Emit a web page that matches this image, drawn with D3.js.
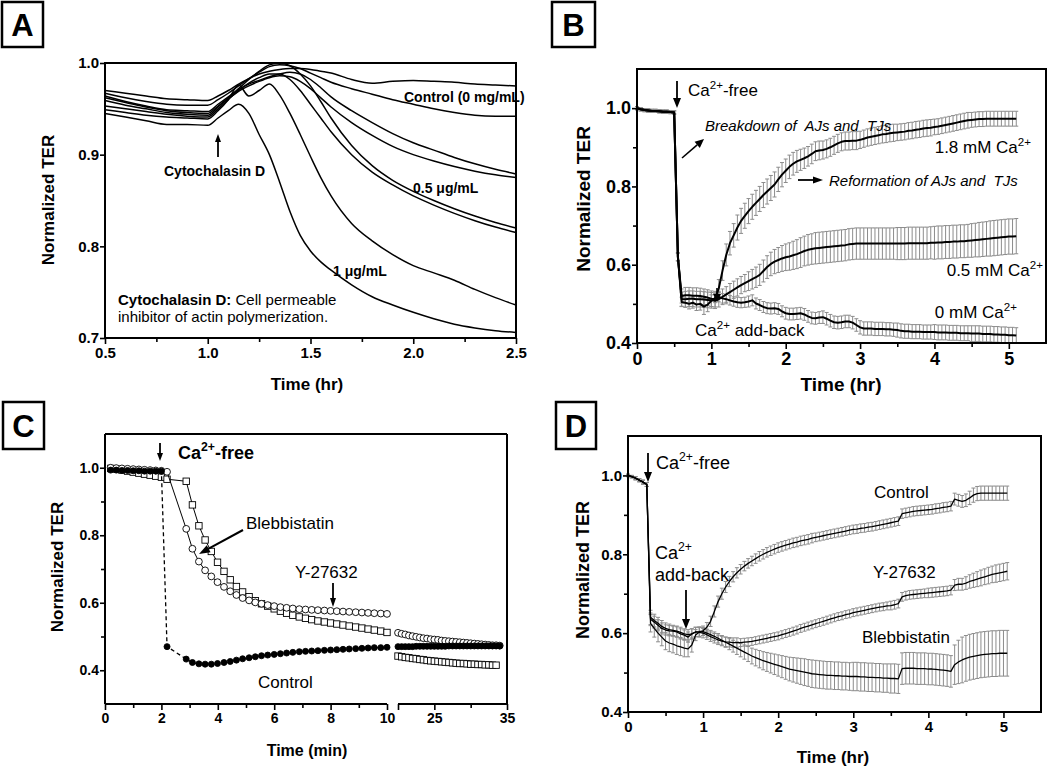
<!DOCTYPE html>
<html>
<head>
<meta charset="utf-8">
<script src="https://d3js.org/d3.v7.min.js"></script>
<title>Normalized TER panels</title>
<style>
  body { margin: 0; background: #fff; }
</style>
</head>
<body>
<script>
    // ---------------- data: panel A (cytochalasin D) ----------------
    var aTimes = [0.5,0.6,0.7,0.8,0.9,1.0,1.05,1.1,1.15,1.2,1.25,1.3,1.35,1.4,1.45,1.5,1.55,1.6,1.7,1.8,1.9,2.0,2.1,2.2,2.3,2.4,2.5];
    var aCtrl1 = [0.970,0.967,0.964,0.961,0.960,0.959, 0.964,0.970,0.977,0.983,0.988,0.991,0.993,0.994,0.994,0.993,0.991,0.989, 0.982,0.978,0.980,0.981,0.980,0.979,0.977,0.976,0.975];
    var aCtrl2 = [0.967,0.962,0.958,0.955,0.954,0.954, 0.960,0.967,0.975,0.983,0.990,0.996,0.998,0.997,0.994,0.989,0.984,0.979, 0.972,0.966,0.960,0.955,0.950,0.946,0.943,0.942,0.942];
    var aLow1  = [0.964,0.958,0.953,0.949,0.948,0.947, 0.955,0.963,0.971,0.977,0.981,0.985,0.988,0.990,0.988,0.982,0.973,0.963, 0.948,0.935,0.923,0.913,0.905,0.897,0.890,0.884,0.879];
    var aLow2  = [0.962,0.957,0.952,0.948,0.946,0.945, 0.953,0.961,0.969,0.975,0.980,0.984,0.986,0.985,0.980,0.972,0.962,0.952, 0.935,0.921,0.909,0.900,0.893,0.887,0.882,0.878,0.875];
    var aHalf1 = [0.959,0.954,0.950,0.946,0.944,0.943, 0.952,0.962,0.972,0.982,0.991,0.998,1.000,0.997,0.988,0.975,0.958,0.940, 0.910,0.888,0.872,0.860,0.850,0.841,0.833,0.826,0.820];
    var aHalf2 = [0.953,0.950,0.947,0.944,0.942,0.941, 0.950,0.960,0.970,0.978,0.984,0.988,0.988,0.982,0.970,0.955,0.940,0.925, 0.900,0.881,0.867,0.855,0.845,0.836,0.828,0.821,0.815];
    var aOne1  = [0.949,0.946,0.943,0.941,0.940,0.939, 0.948,0.960,0.976,0.964,0.970,0.977,0.965,0.945,0.922,0.898,0.875,0.855, 0.825,0.806,0.791,0.779,0.771,0.763,0.753,0.744,0.736];
    var aOne2  = [0.945,0.941,0.937,0.933,0.933,0.932, 0.940,0.948,0.955,0.945,0.922,0.900,0.870,0.838,0.812,0.795,0.783,0.774, 0.758,0.745,0.736,0.728,0.721,0.715,0.711,0.708,0.706];

    // ---------------- data: panel B (Ca2+ switch), one value every 0.05 hr ----------------
    var bStep = 0.05;
    var b18 = [
        1.000,0.997,0.995,0.994,0.993,0.993,0.992,0.991,0.991,0.990,
        0.989,0.620,0.520,0.522,0.522,0.521,0.521,0.520,0.518,0.516,
        0.513,0.512,0.540,0.585,0.625,0.655,0.675,0.695,0.712,0.725,
        0.737,0.748,0.758,0.768,0.778,0.787,0.796,0.805,0.818,0.830,
        0.840,0.850,0.858,0.864,0.868,0.872,0.877,0.883,0.890,0.892,
        0.893,0.896,0.900,0.905,0.910,0.914,0.916,0.916,0.917,0.917,
        0.919,0.922,0.925,0.927,0.929,0.931,0.933,0.934,0.936,0.937,
        0.938,0.939,0.940,0.942,0.943,0.945,0.946,0.948,0.949,0.950,
        0.952,0.953,0.955,0.957,0.959,0.961,0.963,0.965,0.967,0.969,
        0.970,0.971,0.972,0.972,0.973,0.973,0.973,0.973,0.973,0.973,
        0.973,0.973,0.973];
    var b18Err = [
        0.004,0.004,0.004,0.004,0.004,0.004,0.004,0.004,0.004,0.004,
        0.004,0.010,0.018,0.020,0.020,0.020,0.020,0.020,0.020,0.020,
        0.020,0.020,0.022,0.025,0.028,0.030,0.030,0.032,0.032,0.032,
        0.032,0.032,0.032,0.032,0.032,0.032,0.032,0.032,0.031,0.031,
        0.030,0.030,0.029,0.028,0.027,0.026,0.025,0.025,0.024,0.024,
        0.023,0.023,0.023,0.023,0.023,0.023,0.023,0.023,0.023,0.023,
        0.022,0.022,0.022,0.022,0.022,0.022,0.022,0.022,0.022,0.022,
        0.021,0.021,0.021,0.021,0.021,0.021,0.021,0.021,0.021,0.021,
        0.020,0.020,0.020,0.020,0.020,0.020,0.020,0.020,0.020,0.020,
        0.019,0.019,0.019,0.019,0.019,0.019,0.019,0.019,0.019,0.019,
        0.019,0.019,0.019];
    var b05 = [
        1.000,0.997,0.995,0.994,0.993,0.993,0.992,0.991,0.991,0.990,
        0.989,0.620,0.512,0.512,0.513,0.513,0.512,0.512,0.511,0.510,
        0.509,0.508,0.512,0.518,0.524,0.530,0.536,0.542,0.548,0.553,
        0.558,0.563,0.568,0.574,0.584,0.594,0.602,0.608,0.612,0.616,
        0.619,0.621,0.624,0.627,0.631,0.635,0.638,0.640,0.642,0.643,
        0.644,0.645,0.646,0.647,0.648,0.649,0.650,0.652,0.653,0.654,
        0.654,0.654,0.654,0.654,0.654,0.654,0.654,0.654,0.654,0.654,
        0.654,0.654,0.654,0.655,0.655,0.655,0.655,0.655,0.655,0.656,
        0.656,0.657,0.657,0.658,0.658,0.659,0.659,0.660,0.660,0.661,
        0.662,0.663,0.664,0.665,0.666,0.667,0.668,0.669,0.670,0.671,
        0.672,0.672,0.673];
    var b05Err = [
        0.004,0.004,0.004,0.004,0.004,0.004,0.004,0.004,0.004,0.004,
        0.004,0.010,0.018,0.020,0.020,0.020,0.020,0.020,0.020,0.020,
        0.020,0.020,0.020,0.020,0.020,0.022,0.022,0.022,0.022,0.022,
        0.024,0.025,0.026,0.027,0.028,0.029,0.030,0.031,0.032,0.033,
        0.034,0.035,0.036,0.037,0.038,0.038,0.039,0.039,0.040,0.040,
        0.040,0.040,0.040,0.040,0.040,0.040,0.040,0.040,0.040,0.040,
        0.040,0.040,0.040,0.040,0.040,0.040,0.040,0.040,0.040,0.040,
        0.041,0.041,0.041,0.041,0.041,0.041,0.041,0.041,0.041,0.041,
        0.042,0.042,0.042,0.042,0.042,0.042,0.042,0.042,0.042,0.042,
        0.043,0.043,0.044,0.044,0.044,0.045,0.045,0.045,0.045,0.045,
        0.045,0.045,0.045];
    var b00 = [
        1.000,0.997,0.995,0.994,0.993,0.993,0.992,0.991,0.991,0.990,
        0.989,0.620,0.505,0.503,0.500,0.503,0.498,0.500,0.493,0.498,
        0.508,0.515,0.517,0.514,0.512,0.509,0.506,0.504,0.503,0.504,
        0.506,0.509,0.501,0.497,0.492,0.489,0.488,0.489,0.487,0.481,
        0.476,0.474,0.474,0.475,0.476,0.473,0.468,0.464,0.463,0.465,
        0.466,0.462,0.457,0.453,0.452,0.453,0.455,0.455,0.452,0.446,
        0.440,0.437,0.437,0.437,0.436,0.436,0.436,0.435,0.435,0.434,
        0.433,0.431,0.430,0.430,0.429,0.429,0.429,0.428,0.428,0.428,
        0.428,0.427,0.427,0.427,0.426,0.426,0.426,0.425,0.425,0.425,
        0.424,0.424,0.424,0.423,0.423,0.423,0.422,0.422,0.421,0.421,
        0.420,0.420,0.419];
    var b00Err = [
        0.004,0.004,0.004,0.004,0.004,0.004,0.004,0.004,0.004,0.004,
        0.004,0.010,0.012,0.012,0.013,0.014,0.015,0.016,0.020,0.018,
        0.015,0.012,0.012,0.012,0.012,0.012,0.012,0.013,0.013,0.013,
        0.014,0.014,0.014,0.014,0.014,0.014,0.014,0.014,0.014,0.014,
        0.015,0.015,0.015,0.015,0.015,0.015,0.015,0.015,0.015,0.015,
        0.016,0.016,0.016,0.016,0.016,0.016,0.016,0.016,0.016,0.016,
        0.017,0.017,0.017,0.017,0.017,0.017,0.017,0.017,0.017,0.017,
        0.018,0.018,0.018,0.018,0.018,0.018,0.018,0.018,0.018,0.018,
        0.019,0.019,0.019,0.019,0.019,0.019,0.019,0.019,0.019,0.019,
        0.020,0.020,0.020,0.020,0.020,0.020,0.020,0.020,0.020,0.020,
        0.020,0.020,0.020];

    // ---------------- data: panel C (minutes, broken axis) ----------------
    var cTimes = [0.2,0.4,0.6,0.8,1.0,1.2,1.4,1.6,1.8,2.0,2.2,
        2.88,3.1,3.33,3.55,3.77,3.99,4.22,4.44,4.66,4.88,5.11,5.33,5.55,5.77,
        6.0,6.22,6.44,6.66,6.89,7.11,7.33,7.55,7.78,8.0,8.22,8.44,8.66,8.89,
        9.11,9.33,9.55,9.78,10.0];
    var cControl = [0.993,0.993,0.992,0.992,0.991,0.991,0.990,0.990,0.990,0.990,0.470,
        0.433,0.423,0.419,0.418,0.418,0.420,0.423,0.426,0.430,0.434,0.437,0.440,0.443,0.445,
        0.447,0.449,0.451,0.453,0.455,0.456,0.457,0.458,0.459,0.460,0.461,0.462,0.463,0.464,
        0.465,0.466,0.467,0.467,0.468];
    var cY27632 = [1.000,0.999,0.998,0.997,0.996,0.995,0.994,0.993,0.992,0.991,0.988,
        0.819,0.760,0.722,0.696,0.678,0.661,0.647,0.634,0.623,0.614,0.607,0.601,0.597,0.593,
        0.590,0.587,0.585,0.583,0.581,0.580,0.579,0.578,0.577,0.576,0.575,0.574,0.573,0.572,
        0.571,0.570,0.569,0.568,0.567];
    var cBlebb = [0.998,0.996,0.993,0.990,0.987,0.984,0.981,0.978,0.975,0.972,0.966,
        0.960,0.890,0.828,0.786,0.752,0.720,0.693,0.668,0.648,0.632,0.618,0.606,0.597,0.590,
        0.582,0.575,0.569,0.563,0.558,0.554,0.550,0.546,0.543,0.540,0.537,0.534,0.531,0.528,
        0.525,0.522,0.519,0.516,0.512];
    var cTimesLate = [20,20.5,21,21.5,22,22.5,23,23.5,24,24.5,25,25.5,26,26.5,27,27.5,
        28,28.5,29,29.5,30,30.5,31,31.5,32,32.5,33,33.5,34];
    var cControlLate = [0.470,0.470,0.470,0.470,0.470,0.471,0.471,0.471,0.471,0.471,0.471,0.471,0.471,0.471,0.472,0.472,
        0.472,0.472,0.472,0.472,0.472,0.472,0.472,0.472,0.472,0.472,0.472,0.472,0.472];
    var cY27632Late = [0.511,0.508,0.506,0.503,0.501,0.499,0.497,0.495,0.494,0.492,0.491,0.490,0.488,0.487,0.486,0.485,
        0.484,0.483,0.482,0.481,0.480,0.479,0.478,0.477,0.476,0.475,0.474,0.474,0.473];
    var cBlebbLate = [0.442,0.440,0.438,0.437,0.435,0.434,0.432,0.431,0.429,0.428,0.427,0.426,0.425,0.424,0.423,0.422,
        0.421,0.420,0.420,0.419,0.418,0.418,0.417,0.417,0.416,0.416,0.415,0.415];

    // ---------------- data: panel D (inhibitors), one value every 0.05 hr ----------------
    var dStep = 0.05;
    var dControl = [
        1.000,0.997,0.993,0.988,0.983,0.977,0.640,0.632,0.625,0.617,
        0.612,0.609,0.607,0.605,0.602,0.598,0.596,0.598,0.603,0.604,
        0.606,0.615,0.630,0.655,0.680,0.700,0.717,0.731,0.743,0.753,
        0.762,0.770,0.777,0.783,0.789,0.795,0.800,0.805,0.809,0.813,
        0.817,0.820,0.823,0.826,0.829,0.831,0.834,0.836,0.838,0.841,
        0.843,0.845,0.847,0.849,0.851,0.853,0.855,0.857,0.859,0.861,
        0.863,0.864,0.866,0.867,0.869,0.870,0.872,0.874,0.876,0.878,
        0.880,0.882,0.884,0.903,0.905,0.907,0.909,0.910,0.911,0.912,
        0.913,0.914,0.916,0.917,0.919,0.920,0.922,0.940,0.937,0.934,
        0.937,0.943,0.950,0.954,0.955,0.955,0.955,0.955,0.955,0.955,
        0.955,0.955];
    var dControlErr = [
        0.003,0.003,0.004,0.004,0.005,0.005,0.018,0.016,0.015,0.015,
        0.014,0.014,0.013,0.013,0.013,0.013,0.013,0.013,0.012,0.012,
        0.012,0.012,0.013,0.014,0.014,0.014,0.014,0.013,0.013,0.013,
        0.012,0.012,0.012,0.012,0.012,0.012,0.012,0.012,0.012,0.012,
        0.012,0.012,0.012,0.012,0.012,0.012,0.012,0.012,0.012,0.012,
        0.011,0.011,0.011,0.011,0.011,0.011,0.011,0.011,0.011,0.011,
        0.011,0.011,0.011,0.011,0.011,0.011,0.011,0.011,0.011,0.011,
        0.011,0.011,0.011,0.012,0.012,0.012,0.012,0.012,0.012,0.012,
        0.012,0.012,0.012,0.012,0.012,0.012,0.012,0.015,0.015,0.015,
        0.016,0.017,0.018,0.018,0.018,0.018,0.018,0.018,0.018,0.018,
        0.018,0.018];
    var dY27632 = [
        1.000,0.997,0.993,0.988,0.983,0.977,0.635,0.628,0.620,0.612,
        0.608,0.606,0.605,0.603,0.598,0.595,0.590,0.598,0.603,0.602,
        0.600,0.596,0.591,0.587,0.583,0.580,0.578,0.577,0.576,0.576,
        0.576,0.577,0.578,0.579,0.581,0.583,0.585,0.587,0.589,0.591,
        0.593,0.596,0.599,0.602,0.605,0.608,0.612,0.615,0.618,0.621,
        0.624,0.627,0.630,0.633,0.636,0.639,0.642,0.644,0.647,0.649,
        0.652,0.654,0.656,0.658,0.660,0.662,0.664,0.666,0.667,0.669,
        0.670,0.672,0.675,0.692,0.695,0.697,0.698,0.699,0.700,0.701,
        0.702,0.703,0.704,0.705,0.706,0.707,0.709,0.722,0.724,0.724,
        0.727,0.731,0.734,0.737,0.740,0.743,0.746,0.749,0.751,0.753,
        0.755,0.757];
    var dY27632Err = [
        0.003,0.003,0.004,0.004,0.005,0.005,0.016,0.015,0.014,0.014,
        0.013,0.013,0.013,0.013,0.013,0.013,0.013,0.013,0.012,0.012,
        0.012,0.012,0.012,0.012,0.012,0.012,0.012,0.012,0.012,0.012,
        0.010,0.010,0.010,0.010,0.010,0.010,0.010,0.010,0.010,0.010,
        0.010,0.010,0.010,0.010,0.010,0.010,0.010,0.010,0.010,0.010,
        0.010,0.010,0.010,0.010,0.010,0.010,0.010,0.010,0.010,0.010,
        0.010,0.010,0.010,0.010,0.010,0.010,0.010,0.010,0.010,0.010,
        0.011,0.011,0.011,0.011,0.011,0.011,0.011,0.011,0.011,0.011,
        0.012,0.012,0.012,0.012,0.012,0.012,0.012,0.014,0.015,0.015,
        0.016,0.017,0.018,0.019,0.020,0.020,0.021,0.021,0.022,0.022,
        0.022,0.022];
    var dBlebb = [
        1.000,0.997,0.993,0.988,0.983,0.977,0.625,0.612,0.600,0.590,
        0.580,0.575,0.572,0.568,0.565,0.562,0.560,0.570,0.595,0.603,
        0.604,0.600,0.596,0.592,0.587,0.582,0.577,0.572,0.567,0.562,
        0.557,0.552,0.547,0.542,0.538,0.534,0.530,0.527,0.524,0.521,
        0.518,0.515,0.512,0.509,0.507,0.505,0.503,0.501,0.499,0.497,
        0.496,0.495,0.494,0.493,0.493,0.492,0.492,0.491,0.491,0.490,
        0.490,0.490,0.489,0.489,0.488,0.488,0.487,0.487,0.486,0.486,
        0.485,0.485,0.484,0.510,0.511,0.511,0.511,0.510,0.510,0.510,
        0.509,0.509,0.508,0.507,0.506,0.505,0.503,0.520,0.527,0.532,
        0.536,0.539,0.541,0.543,0.545,0.546,0.547,0.548,0.548,0.549,
        0.549,0.549];
    var dBlebbErr = [
        0.003,0.003,0.004,0.004,0.005,0.005,0.022,0.022,0.022,0.022,
        0.022,0.022,0.022,0.022,0.022,0.022,0.020,0.018,0.014,0.012,
        0.010,0.010,0.011,0.011,0.012,0.012,0.013,0.014,0.015,0.016,
        0.017,0.018,0.019,0.020,0.021,0.022,0.023,0.024,0.025,0.026,
        0.027,0.028,0.029,0.030,0.031,0.032,0.033,0.034,0.034,0.035,
        0.035,0.035,0.035,0.035,0.035,0.035,0.035,0.035,0.035,0.035,
        0.036,0.036,0.036,0.036,0.036,0.036,0.036,0.036,0.036,0.036,
        0.037,0.037,0.037,0.040,0.040,0.040,0.040,0.040,0.040,0.040,
        0.040,0.040,0.040,0.040,0.040,0.040,0.040,0.050,0.055,0.058,
        0.058,0.058,0.058,0.058,0.058,0.058,0.058,0.058,0.058,0.058,
        0.058,0.058];

    // ---------------- drawing ----------------
    var FONT = "'Liberation Sans', Arial, Helvetica, sans-serif";
    var svg = d3.select("body").append("svg")
        .attr("width", 1050).attr("height", 767)
        .attr("font-family", FONT);
    svg.append("rect").attr("width", 1050).attr("height", 767).attr("fill", "#fff");

    function panelLabel(letter, x, y, w, h) {
        svg.append("rect").attr("x", x).attr("y", y).attr("width", w).attr("height", h)
            .attr("fill", "none").attr("stroke", "#000").attr("stroke-width", 2.5);
        svg.append("text").attr("x", x + w / 2).attr("y", y + h / 2 + 11)
            .attr("text-anchor", "middle").attr("font-size", 31).attr("font-weight", "bold")
            .text(letter);
    }

    function frame(x, y) {
        svg.append("rect")
            .attr("x", x.range()[0]).attr("y", y.range()[1])
            .attr("width", x.range()[1] - x.range()[0]).attr("height", y.range()[0] - y.range()[1])
            .attr("fill", "none").attr("stroke", "#000").attr("stroke-width", 2);
    }

    function styleAxis(g, fs) {
        g.attr("font-family", FONT).attr("font-size", fs).attr("font-weight", "bold");
        g.select(".domain").remove();
        g.selectAll(".tick line").attr("stroke", "#000").attr("stroke-width", 1.6);
        g.selectAll(".tick text").attr("fill", "#000");
    }

    function bottomAxis(x, yPos, ticks, minor, fmt, fs) {
        var g = svg.append("g").attr("transform", "translate(0," + yPos + ")")
            .call(d3.axisBottom(x).tickValues(ticks).tickFormat(fmt).tickSize(6).tickSizeOuter(0).tickPadding(3));
        styleAxis(g, fs);
        if (minor) {
            var m = svg.append("g").attr("transform", "translate(0," + yPos + ")")
                .call(d3.axisBottom(x).tickValues(minor).tickFormat("").tickSize(4).tickSizeOuter(0));
            styleAxis(m, fs);
        }
    }

    function leftAxis(y, xPos, ticks, minor, fmt, fs) {
        var g = svg.append("g").attr("transform", "translate(" + xPos + ",0)")
            .call(d3.axisLeft(y).tickValues(ticks).tickFormat(fmt).tickSize(5).tickSizeOuter(0).tickPadding(1));
        styleAxis(g, fs);
        if (minor) {
            var m = svg.append("g").attr("transform", "translate(" + xPos + ",0)")
                .call(d3.axisLeft(y).tickValues(minor).tickFormat("").tickSize(4).tickSizeOuter(0));
            styleAxis(m, fs);
        }
    }

    function yTitle(cx, cy, fs) {
        svg.append("text")
            .attr("transform", "translate(" + (cx + fs * 0.36) + "," + cy + ") rotate(-90)")
            .attr("text-anchor", "middle").attr("font-size", fs).attr("font-weight", "bold")
            .text("Normalized TER");
    }

    function xTitle(cx, cy, fs, txt) {
        svg.append("text").attr("x", cx).attr("y", cy + fs * 0.36)
            .attr("text-anchor", "middle").attr("font-size", fs).attr("font-weight", "bold")
            .text(txt);
    }

    // text with optional superscript / bold pieces
    function label(x, y, parts, o) {
        o = o || {};
        var size = o.size || 16;
        var t = svg.append("text").attr("x", x).attr("y", y)
            .attr("font-size", size)
            .attr("font-weight", o.bold ? "bold" : "normal")
            .attr("font-style", o.italic ? "italic" : "normal")
            .attr("text-anchor", o.anchor || "start")
            .style("white-space", "pre");
        if (typeof parts === "string") parts = [parts];
        var shift = 0;
        parts.forEach(function (p) {
            if (typeof p === "string") p = {t: p};
            var sp = t.append("tspan").text(p.t);
            var target = p.sup ? -0.42 * size : 0;
            if (target !== shift) { sp.attr("dy", target - shift); shift = target; }
            if (p.sup) sp.attr("font-size", size * 0.68);
            if (p.bold) sp.attr("font-weight", "bold");
        });
        return t;
    }

    function arrow(x1, y1, x2, y2, hl, hw, sw) {
        var a = Math.atan2(y2 - y1, x2 - x1);
        var bx = x2 - hl * Math.cos(a), by = y2 - hl * Math.sin(a);
        var px = -Math.sin(a) * hw / 2, py = Math.cos(a) * hw / 2;
        svg.append("line").attr("x1", x1).attr("y1", y1).attr("x2", bx).attr("y2", by)
            .attr("stroke", "#000").attr("stroke-width", sw || 1.8);
        svg.append("polygon")
            .attr("points", [x2, y2, bx + px, by + py, bx - px, by - py].join(","))
            .attr("fill", "#000");
    }

    function errorBars(x, y, step, vals, errs, color, cap) {
        var g = svg.append("g").attr("stroke", color).attr("stroke-width", 1).attr("fill", "none");
        vals.forEach(function (v, i) {
            var xi = x(i * step), lo = y(v - errs[i]), hi = y(v + errs[i]);
            g.append("line").attr("x1", xi).attr("x2", xi).attr("y1", lo).attr("y2", hi);
            g.append("line").attr("x1", xi - cap).attr("x2", xi + cap).attr("y1", lo).attr("y2", lo);
            g.append("line").attr("x1", xi - cap).attr("x2", xi + cap).attr("y1", hi).attr("y2", hi);
        });
    }

    function stepLine(x, y, step, vals, w) {
        svg.append("path").datum(vals)
            .attr("fill", "none").attr("stroke", "#000").attr("stroke-width", w)
            .attr("stroke-linejoin", "round")
            .attr("d", d3.line().x(function (d, i) { return x(i * step); }).y(function (d) { return y(d); }));
    }

    // ================= Panel A =================
    panelLabel("A", 2, 2, 41, 45);
    var xA = d3.scaleLinear().domain([0.5, 2.5]).range([105, 516]);
    var yA = d3.scaleLinear().domain([0.7, 1.0]).range([338, 63]);
    var lineA = d3.line()
        .x(function (d, i) { return xA(aTimes[i]); })
        .y(function (d) { return yA(d); })
        .curve(d3.curveMonotoneX);
    [aCtrl1, aCtrl2, aLow1, aLow2, aHalf1, aHalf2, aOne1, aOne2].forEach(function (s) {
        svg.append("path").datum(s).attr("fill", "none").attr("stroke", "#000")
            .attr("stroke-width", 1.5).attr("d", lineA);
    });
    frame(xA, yA);
    bottomAxis(xA, 338, [0.5, 1.0, 1.5, 2.0, 2.5], [0.75, 1.25, 1.75, 2.25], d3.format(".1f"), 15);
    leftAxis(yA, 105, [0.7, 0.8, 0.9, 1.0], null, d3.format(".1f"), 15);
    yTitle(48, 200, 17);
    xTitle(307, 384, 17, "Time (hr)");
    label(404, 102, "Control (0 mg/mL)", {size: 14, bold: true});
    label(413, 193, "0.5 \u03bcg/mL", {size: 14, bold: true});
    label(333, 276, "1 \u03bcg/mL", {size: 14, bold: true});
    arrow(218, 157, 218, 134, 8, 6, 1.8);
    label(164, 176, "Cytochalasin D", {size: 14, bold: true});
    label(118, 305, [{t: "Cytochalasin D:", bold: true}, " Cell permeable"], {size: 15});
    label(118, 322, "inhibitor of actin polymerization.", {size: 15});

    // ================= Panel B =================
    panelLabel("B", 552, 2, 43, 45);
    var xB = d3.scaleLinear().domain([0, 5.5]).range([637, 1046]);
    var yB = d3.scaleLinear().domain([0.4, 1.1]).range([343, 69]);
    errorBars(xB, yB, bStep, b00, b00Err, "#8c8c8c", 2);
    errorBars(xB, yB, bStep, b05, b05Err, "#8c8c8c", 2);
    errorBars(xB, yB, bStep, b18, b18Err, "#8c8c8c", 2);
    stepLine(xB, yB, bStep, b00, 2);
    stepLine(xB, yB, bStep, b05, 2);
    stepLine(xB, yB, bStep, b18, 2);
    frame(xB, yB);
    bottomAxis(xB, 343, [0, 1, 2, 3, 4, 5], [0.5, 1.5, 2.5, 3.5, 4.5], d3.format("d"), 18);
    leftAxis(yB, 637, [0.4, 0.6, 0.8, 1.0], [0.5, 0.7, 0.9], d3.format(".1f"), 18);
    yTitle(583, 199, 19);
    xTitle(841, 384, 19, "Time (hr)");
    arrow(677, 81, 677, 108, 10, 8, 1.8);
    label(688, 96, ["Ca", {t: "2+", sup: true}, "-free"], {size: 17});
    label(705, 131, "Breakdown of  AJs and  TJs", {size: 15, italic: true});
    arrow(682, 158, 704, 139, 9, 8, 1.6);
    label(1031, 153, ["1.8 mM Ca", {t: "2+", sup: true}], {size: 17, anchor: "end"});
    arrow(798, 180, 823, 180, 10, 7, 1.8);
    label(829, 186, "Reformation of AJs and  TJs", {size: 15, italic: true});
    label(1043, 276, ["0.5 mM Ca", {t: "2+", sup: true}], {size: 17, anchor: "end"});
    label(1017, 318, ["0 mM Ca", {t: "2+", sup: true}], {size: 17, anchor: "end"});
    label(695, 336, ["Ca", {t: "2+", sup: true}, " add-back"], {size: 17});
    arrow(717, 288, 717, 302, 8, 8, 1.6);

    // ================= Panel C =================
    panelLabel("C", 3, 402, 41, 47);
    var xCL = d3.scaleLinear().domain([0, 10]).range([105, 387]);
    var xCR = d3.scaleLinear().domain([20, 35]).range([398, 507]);
    var yC = d3.scaleLinear().domain([0.3, 1.1]).range([704, 434]);

    var frameC = svg.append("g").attr("stroke", "#000").attr("stroke-width", 2);
    frameC.append("line").attr("x1", 105).attr("x2", 507).attr("y1", 434).attr("y2", 434);
    frameC.append("line").attr("x1", 105).attr("x2", 105).attr("y1", 434).attr("y2", 704);
    frameC.append("line").attr("x1", 507).attr("x2", 507).attr("y1", 434).attr("y2", 704);
    frameC.append("line").attr("x1", 105).attr("x2", 387).attr("y1", 704).attr("y2", 704);
    frameC.append("line").attr("x1", 398).attr("x2", 507).attr("y1", 704).attr("y2", 704);

    function cLine(vals, dash) {
        svg.append("path").datum(vals).attr("fill", "none").attr("stroke", "#000")
            .attr("stroke-width", dash ? 1.3 : 1).attr("stroke-dasharray", dash || null)
            .attr("d", d3.line().x(function (d, i) { return xCL(cTimes[i]); }).y(function (d) { return yC(d); }));
    }
    function circles(xs, ts, vals, filled) {
        svg.append("g").selectAll("circle").data(vals).enter().append("circle")
            .attr("cx", function (d, i) { return xs(ts[i]); })
            .attr("cy", function (d) { return yC(d); })
            .attr("r", filled ? 3 : 3.4)
            .attr("fill", filled ? "#000" : "#fff")
            .attr("stroke", "#000").attr("stroke-width", 0.9);
    }
    function squares(xs, ts, vals) {
        svg.append("g").selectAll("rect").data(vals).enter().append("rect")
            .attr("x", function (d, i) { return xs(ts[i]) - 3.2; })
            .attr("y", function (d) { return yC(d) - 3.2; })
            .attr("width", 6.4).attr("height", 6.4)
            .attr("fill", "#fff").attr("stroke", "#000").attr("stroke-width", 0.9);
    }
    cLine(cBlebb);
    squares(xCL, cTimes, cBlebb);
    cLine(cY27632);
    circles(xCL, cTimes, cY27632, false);
    cLine(cControl, "4,3");
    circles(xCL, cTimes, cControl, true);
    squares(xCR, cTimesLate, cBlebbLate);
    circles(xCR, cTimesLate, cY27632Late, false);
    circles(xCR, cTimesLate, cControlLate, true);

    bottomAxis(xCL, 704, [0, 2, 4, 6, 8, 10], [1, 3, 5, 7, 9], d3.format("d"), 14);
    bottomAxis(xCR, 704, [20, 25, 35], [30], function (d) { return d === 20 ? "" : d; }, 14);
    leftAxis(yC, 105, [0.4, 0.6, 0.8, 1.0], [0.5, 0.7, 0.9], d3.format(".1f"), 14);
    yTitle(57, 567, 17);
    xTitle(307, 750, 16, "Time (min)");
    arrow(160, 443, 160, 461, 8, 6, 1.8);
    label(178, 459, ["Ca", {t: "2+", sup: true}, "-free"], {size: 18, bold: true});
    label(246, 529, "Blebbistatin", {size: 17});
    arrow(243, 530, 199, 554, 11, 8, 2);
    label(295, 578, "Y-27632", {size: 17});
    arrow(333, 583, 333, 607, 9, 6, 1.8);
    label(258, 688, "Control", {size: 17});

    // ================= Panel D =================
    panelLabel("D", 556, 402, 40, 47);
    var xD = d3.scaleLinear().domain([0, 5.5]).range([628, 1041]);
    var yD = d3.scaleLinear().domain([0.4, 1.1]).range([712, 436]);
    errorBars(xD, yD, dStep, dBlebb, dBlebbErr, "#8c8c8c", 2);
    errorBars(xD, yD, dStep, dY27632, dY27632Err, "#8c8c8c", 2);
    errorBars(xD, yD, dStep, dControl, dControlErr, "#8c8c8c", 2);
    stepLine(xD, yD, dStep, dBlebb, 1.3);
    stepLine(xD, yD, dStep, dY27632, 1.3);
    stepLine(xD, yD, dStep, dControl, 1.3);
    frame(xD, yD);
    bottomAxis(xD, 712, [0, 1, 2, 3, 4, 5], [0.5, 1.5, 2.5, 3.5, 4.5], d3.format("d"), 15);
    leftAxis(yD, 628, [0.4, 0.6, 0.8, 1.0], [0.5, 0.7, 0.9], d3.format(".1f"), 15);
    yTitle(583, 570, 18);
    xTitle(833, 757, 17, "Time (hr)");
    arrow(648, 453, 648, 482, 10, 8, 1.8);
    label(656, 469, ["Ca", {t: "2+", sup: true}, "-free"], {size: 18});
    label(655, 559, ["Ca", {t: "2+", sup: true}], {size: 18});
    label(655, 581, "add-back", {size: 18});
    arrow(686, 590, 686, 629, 10, 8, 1.8);
    label(874, 498, "Control", {size: 17});
    label(873, 578, "Y-27632", {size: 17});
    label(862, 643, "Blebbistatin", {size: 17});
</script>
</body>
</html>
